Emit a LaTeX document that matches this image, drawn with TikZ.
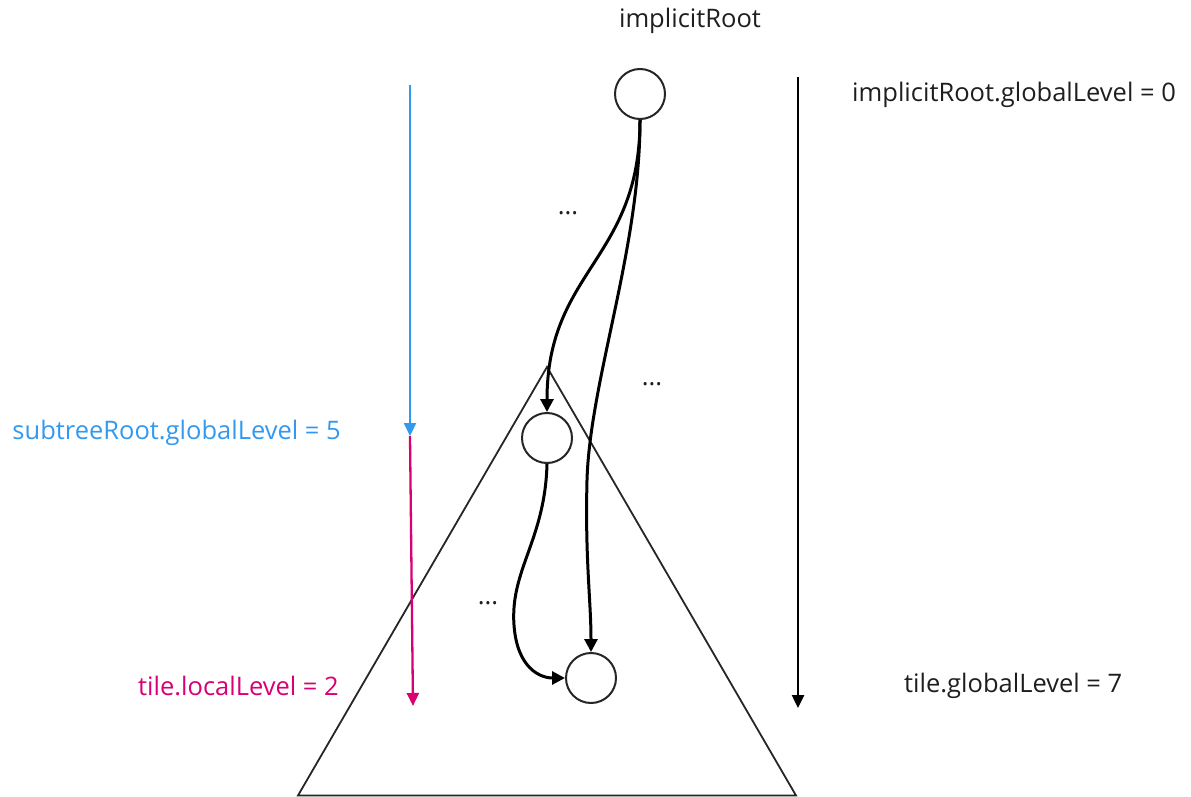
\documentclass[tikz,border=0pt]{standalone}
\usepackage{fontspec}
\setmainfont{Open Sans}
\usetikzlibrary{arrows.meta}
\definecolor{myblue}{RGB}{51,153,240}
\definecolor{myred}{RGB}{216,0,115}
\definecolor{mytext}{RGB}{30,30,30}
\begin{document}
\begin{tikzpicture}[x=1pt,y=-1pt,
  circ/.style={draw=black!85,line width=2pt,circle,minimum size=50pt,inner sep=0pt},
  lbl/.style={font=\fontsize{25.5}{30}\selectfont,text=mytext,inner sep=0pt},
  conn/.style={line width=3pt,-{Triangle[length=13pt,width=13pt]}},
  lvl/.style={line width=2.3pt,-{Triangle[length=13pt,width=12pt]}}]
\useasboundingbox (0,0) rectangle (1191,797);
% triangle
\coordinate (apex) at (547,367);
\coordinate (bl) at (298,795.5);
\coordinate (br) at (796,795.5);
\draw[line width=1.8pt,black!85] (apex) -- (bl) -- (br) -- cycle;
% circles
\node[circ,fill=white] (root) at (640,94) {};
\node[circ,fill=white] (sub) at (547,438) {};
\node[circ,fill=white] (tile) at (591,678) {};
% connectors
\draw[conn] (root.south) .. controls (640,260) and (547,270) .. (sub.north);
\draw[conn] (root.south) .. controls (640,250) and (590,380) .. (587,480) .. controls (585,560) and (591,600) .. (tile.north);
\draw[conn] (sub.south) .. controls (545,540) and (510,570) .. (514,625) .. controls (517,668) and (540,678) .. (tile.west);
% level arrows
\coordinate (bT) at (410,85);
\coordinate (bB) at (410,436);
\coordinate (rB) at (413,706);
\coordinate (kT) at (798,77);
\coordinate (kB) at (798,708);
\draw[lvl,myblue] (bT) -- (bB);
\draw[lvl,myred] (bB) -- (rB);
\draw[lvl,black,line width=2.5pt] (kT) -- (kB);
% labels
\node[lbl] (tRoot) at (690,21) {implicitRoot};
\node[lbl,anchor=west] (tRootL) at (852,95) {implicitRoot.globalLevel = 0};
\node[lbl,anchor=east,text=myblue] (tSub) at (341,433) {subtreeRoot.globalLevel = 5};
\node[lbl,anchor=east,text=myred] (tLocal) at (339,686) {tile.localLevel = 2};
\node[lbl,anchor=west] (tGlob) at (904,686) {tile.globalLevel = 7};
\node[lbl] (d1) at (568,213) {...};
\node[lbl] (d2) at (652,384) {...};
\node[lbl] (d3) at (488,603) {...};
\end{tikzpicture}
\end{document}
